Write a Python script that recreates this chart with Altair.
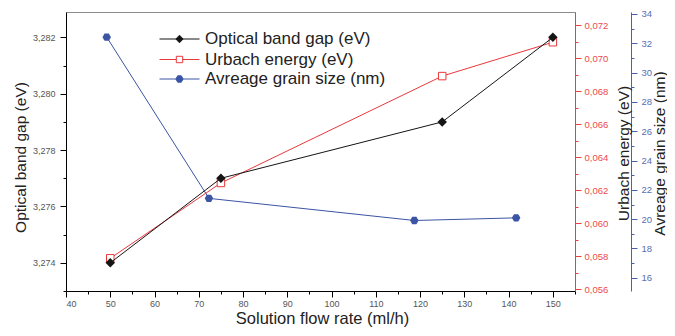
import altair as alt
import pandas as pd

# ---- data ----
series_names = ["Optical band gap (eV)", "Urbach energy (eV)", "Avreage grain size (nm)"]

flow_gap = [50, 75, 125, 150]
band_gap = [3.274, 3.277, 3.279, 3.282]

flow_urb = [50, 75, 125, 150]
urbach = [0.05788, 0.06244, 0.06891, 0.07096]

flow_grain = [49.2, 72.3, 118.7, 141.7]
grain = [32.42, 21.42, 19.91, 20.09]

x_ticks = [40, 45, 50, 55, 60, 65, 70, 75, 80, 85, 90, 95, 100, 105, 110, 115, 120, 125, 130, 135, 140, 145, 150, 155]
gap_ticks = [3.273, 3.274, 3.275, 3.276, 3.277, 3.278, 3.279, 3.280, 3.281, 3.282]
urb_ticks = [0.056, 0.057, 0.058, 0.059, 0.060, 0.061, 0.062, 0.063, 0.064, 0.065,
             0.066, 0.067, 0.068, 0.069, 0.070, 0.071, 0.072]
grain_ticks = [16, 17, 18, 19, 20, 21, 22, 23, 24, 25, 26, 27, 28, 29, 30, 31, 32, 33, 34]

FONT = "Liberation Sans"
BLACK = "#151515"
RED = "#e8383c"
BLUE = "#3b54a4"
RED_AX = "#e8403f"
BLUE_AX = "#4b61ab"

df_gap = pd.DataFrame({"flow": flow_gap, "value": band_gap, "series": series_names[0]})
df_urb = pd.DataFrame({"flow": flow_urb, "value": urbach, "series": series_names[1]})
df_grain = pd.DataFrame({"flow": flow_grain, "value": grain, "series": series_names[2]})

HEX = "M-1,0L-0.5,-0.866L0.5,-0.866L1,0L0.5,0.866L-0.5,0.866Z"
LEG_BLACK = "M-1,0H1M0,-0.19L0.18,0L0,0.19L-0.18,0Z"
LEG_RED = "M-1,0H-0.16M0.16,0H1M-0.16,-0.16H0.16V0.16H-0.16Z"
LEG_BLUE = "M-1,0H1M-0.18,0L-0.09,-0.16L0.09,-0.16L0.18,0L0.09,0.16L-0.09,0.16Z"

thousandth_major = "round(datum.value*1000) % 2 == 0"
fmt3 = f"{thousandth_major} ? replace(format(datum.value, '.3f'), '.', ',') : ''"

x_enc = alt.X(
    "flow:Q",
    scale=alt.Scale(domain=[40, 155], nice=False, zero=False),
    axis=alt.Axis(
        title="Solution flow rate (ml/h)",
        values=x_ticks,
        labelExpr="datum.value % 10 == 0 && datum.value <= 150 ? datum.label : ''",
        tickSize={"condition": {"test": "datum.value % 10 == 0", "value": 6}, "value": 3},
        domainColor="#000", tickColor="#000", labelColor="#555",
        labelFontSize=9, labelPadding=2,
        titleFontSize=16.5, titleColor="#222",
        titleX=256, titleY=27.5, titleAlign="center", titleBaseline="middle",
    ),
)

y_gap = alt.Y(
    "value:Q",
    scale=alt.Scale(domain=[3.273, 3.2829], nice=False, zero=False),
    axis=alt.Axis(
        orient="left", title="Optical band gap (eV)", values=gap_ticks,
        labelExpr=fmt3,
        tickSize={"condition": {"test": thousandth_major, "value": 6}, "value": 3},
        domainColor="#000", tickColor="#000", labelColor="#555",
        labelFontSize=9, labelPadding=5,
        titleFontSize=15.5, titleColor="#222",
        titleX=-46, titleY=145, titleAngle=270, titleAlign="center", titleBaseline="middle",
    ),
)

y_urb = alt.Y(
    "value:Q",
    scale=alt.Scale(domain=[0.0559, 0.07279], nice=False, zero=False),
    axis=alt.Axis(
        orient="right", offset=0, title="Urbach energy (eV)", values=urb_ticks,
        labelExpr=fmt3,
        tickSize={"condition": {"test": thousandth_major, "value": 6}, "value": 3},
        domainColor=RED_AX, tickColor=RED_AX, labelColor="#ee4a4d",
        labelFontSize=9.5, labelPadding=3,
        titleFontSize=15.5, titleColor="#222",
        titleX=48, titleY=141, titleAngle=270, titleAlign="center", titleBaseline="middle",
    ),
)

y_grain = alt.Y(
    "value:Q",
    scale=alt.Scale(domain=[15.1, 34.135], nice=False, zero=False),
    axis=alt.Axis(
        orient="right", offset=56, title="Avreage grain size (nm)", values=grain_ticks,
        labelExpr="datum.value % 2 == 0 ? datum.label : ''",
        tickSize={"condition": {"test": "datum.value % 2 == 0", "value": 6}, "value": 3},
        domainColor=BLUE_AX, tickColor=BLUE_AX, labelColor="#5a6db2",
        labelFontSize=9.5, labelPadding=4,
        titleFontSize=15.5, titleColor="#222",
        titleX=28, titleY=141, titleAngle=270, titleAlign="center", titleBaseline="middle",
    ),
)


def legend(path, y, stroke=None):
    kw = dict(
        title=None, orient="none", legendX=93, legendY=y, padding=0,
        symbolType=path, symbolSize=1600, clipHeight=20, symbolStrokeWidth=1,
        symbolOpacity=1, labelFont=FONT, labelFontSize=17, labelColor="#222",
        labelOffset=5, labelLimit=400,
    )
    if stroke:
        kw["symbolStrokeColor"] = stroke
    return alt.Legend(**kw)


gap_layer = alt.layer(
    alt.Chart().mark_line(color=BLACK, strokeWidth=1).encode(x=x_enc, y=y_gap),
    alt.Chart().mark_point(shape="diamond", filled=True, size=90, opacity=1, strokeWidth=1).encode(
        x=x_enc, y=y_gap,
        color=alt.Color("series:N", scale=alt.Scale(domain=[series_names[0]], range=[BLACK]),
                        legend=legend(LEG_BLACK, 17, BLACK)),
    ),
    data=df_gap,
)

urb_layer = alt.layer(
    alt.Chart().mark_line(color=RED, strokeWidth=1).encode(x=x_enc, y=y_urb),
    alt.Chart().mark_point(shape="square", filled=False, fill="white", size=56, opacity=1, strokeWidth=1).encode(
        x=x_enc, y=y_urb,
        color=alt.Color("series:N", scale=alt.Scale(domain=[series_names[1]], range=[RED]),
                        legend=legend(LEG_RED, 37.5)),
    ),
    data=df_urb,
)

grain_layer = alt.layer(
    alt.Chart().mark_line(color=BLUE, strokeWidth=1).encode(x=x_enc, y=y_grain),
    alt.Chart().mark_point(shape=HEX, filled=True, size=72, opacity=1, strokeWidth=1).encode(
        x=x_enc, y=y_grain,
        color=alt.Color("series:N", scale=alt.Scale(domain=[series_names[2]], range=[BLUE]),
                        legend=legend(LEG_BLUE, 57, BLUE)),
    ),
    data=df_grain,
)

chart = (
    alt.layer(grain_layer, urb_layer, gap_layer)
    .resolve_scale(y="independent", color="independent")
    .properties(
        width=509, height=279,
        autosize=alt.AutoSizeParams(type="none"),
        padding={"left": 58, "top": 4, "right": 92, "bottom": 37},
        background="white",
    )
    .configure_view(stroke="#8c8c8c", strokeWidth=1)
    .configure_axis(grid=False, labelFont=FONT, titleFont=FONT, titleFontWeight="normal",
                    domainWidth=1, tickWidth=1)
)

chart.save("out.html", embed_options={"renderer": "svg", "actions": False})
